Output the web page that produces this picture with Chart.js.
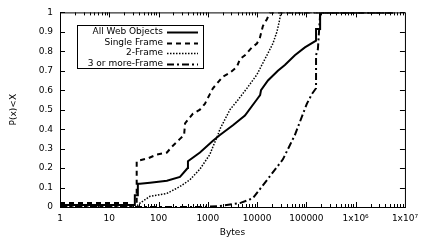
<!DOCTYPE html>
<html><head><meta charset="utf-8">
<script src="https://cdn.jsdelivr.net/npm/chart.js@4.4.0/dist/chart.umd.min.js"></script>
<style>html,body{margin:0;padding:0;background:#fff;}canvas{display:block;}</style>
</head><body>
<canvas id="c" width="424" height="242"></canvas>
<script>
const seriesLabels = ['All Web Objects', 'Single Frame', '2-Frame', '3 or more-Frame'];

const allBytes = [1, 33, 33, 38, 38, 42, 67, 148, 272, 360, 390, 395, 692, 1270, 1760, 3230, 5660, 10400, 11500, 12000, 16600, 26400, 36600, 58400, 93300, 157000, 157000, 190000, 190000, 5800000];
const allP     = [0.01, 0.01, 0.06, 0.06, 0.12, 0.12, 0.125, 0.135, 0.155, 0.19, 0.2, 0.235, 0.28, 0.34, 0.37, 0.42, 0.47, 0.56, 0.575, 0.6, 0.65, 0.7, 0.73, 0.78, 0.82, 0.855, 0.915, 0.915, 1.0, 1.0];

const singleBytes = [1, 24, 24, 36, 36, 42, 61, 93, 148, 187, 272, 330, 345, 500, 690, 870, 1100, 1270, 2020, 2810, 3890, 4480, 5660, 7850, 9900, 11400, 13100, 15800, 18200, 5800000];
const singleP     = [0.02, 0.02, 0.01, 0.01, 0.235, 0.24, 0.25, 0.27, 0.28, 0.31, 0.35, 0.37, 0.43, 0.48, 0.5, 0.53, 0.58, 0.61, 0.67, 0.69, 0.72, 0.76, 0.78, 0.82, 0.84, 0.87, 0.93, 0.965, 1.0, 1.0];

const twoBytes = [1, 36, 38, 42, 67, 148, 272, 433, 692, 1100, 1270, 1600, 1760, 2810, 4080, 6210, 9900, 13100, 16600, 20900, 25200, 28000, 30400, 5800000];
const twoP     = [0, 0, 0.01, 0.02, 0.055, 0.07, 0.105, 0.14, 0.195, 0.27, 0.31, 0.37, 0.4, 0.5, 0.55, 0.61, 0.68, 0.74, 0.79, 0.84, 0.9, 0.95, 1.0, 1.0];

const threeBytes = [1, 700, 1760, 4480, 8200, 16600, 33400, 58400, 102000, 129000, 157000, 157000, 171000, 188000, 190000, 5800000];
const threeP     = [0, 0, 0.005, 0.02, 0.045, 0.145, 0.245, 0.37, 0.53, 0.58, 0.61, 0.78, 0.81, 0.97, 1.0, 1.0];

const xTickValues = [1, 10, 100, 1000, 10000, 100000, 1000000, 10000000];
const xTickLabels = ['1', '10', '100', '1000', '10000', '100000', '1x10\u2076', '1x10\u2077'];
const yTickValues = [0, 0.1, 0.2, 0.3, 0.4, 0.5, 0.6, 0.7, 0.8, 0.9, 1];
const yTickLabels = ['0', '0.1', '0.2', '0.3', '0.4', '0.5', '0.6', '0.7', '0.8', '0.9', '1'];

const FONT = 'DejaVu Sans';
const pts = (xs, ys) => xs.map((x, i) => ({x: x, y: ys[i]}));
const lineStyles = [
  {borderWidth: 2, borderDash: []},
  {borderWidth: 2, borderDash: [5, 4]},
  {borderWidth: 1.5, borderDash: [1.5, 1.5]},
  {borderWidth: 2, borderDash: [7, 3, 2, 3]}
];
const seriesData = [pts(allBytes, allP), pts(singleBytes, singleP), pts(twoBytes, twoP), pts(threeBytes, threeP)];

const framePlugin = {
  id: 'frame',
  afterDatasetsDraw(chart) {
    const {ctx, chartArea: a, scales: {x, y}} = chart;
    ctx.save();
    ctx.strokeStyle = '#000';
    ctx.lineWidth = 1;
    ctx.setLineDash([]);
    ctx.strokeRect(a.left + 0.5, a.top + 0.5, a.right - a.left, a.bottom - a.top);
    ctx.beginPath();
    for (let d = 0; d < 7; d++) {
      for (let m = 1; m < 10; m++) {
        const v = Math.pow(10, d) * m;
        const px = Math.round(x.getPixelForValue(v)) + 0.5;
        const len = m === 1 ? 5 : 3;
        ctx.moveTo(px, a.bottom); ctx.lineTo(px, a.bottom - len);
        ctx.moveTo(px, a.top); ctx.lineTo(px, a.top + len);
      }
    }
    yTickValues.forEach(v => {
      const py = Math.round(y.getPixelForValue(v)) + 0.5;
      ctx.moveTo(a.left, py); ctx.lineTo(a.left + 5, py);
      ctx.moveTo(a.right, py); ctx.lineTo(a.right - 5, py);
    });
    ctx.stroke();

    // legend
    const lg = {left: 77, top: 25, right: 203, bottom: 68, textRight: 163, x0: 167, x1: 198, rows: [32, 42.5, 53, 63.5]};
    ctx.fillStyle = '#fff';
    ctx.fillRect(lg.left, lg.top, lg.right - lg.left, lg.bottom - lg.top);
    ctx.strokeRect(lg.left + 0.5, lg.top + 0.5, lg.right - lg.left, lg.bottom - lg.top);
    ctx.font = '9px "' + FONT + '"';
    ctx.textAlign = 'right';
    ctx.textBaseline = 'middle';
    chart.data.datasets.forEach((ds, i) => {
      const ry = lg.rows[i];
      ctx.fillStyle = '#000';
      ctx.fillText(ds.label, lg.textRight, ry);
      ctx.beginPath();
      ctx.lineWidth = ds.borderWidth;
      ctx.setLineDash(ds.borderDash);
      ctx.moveTo(lg.x0, Math.round(ry) + 0.5);
      ctx.lineTo(lg.x1, Math.round(ry) + 0.5);
      ctx.stroke();
    });
    ctx.restore();
  }
};

new Chart(document.getElementById('c'), {
  type: 'line',
  data: {
    datasets: seriesLabels.map((lab, i) => ({
      label: lab,
      data: seriesData[i],
      borderColor: '#000',
      borderWidth: lineStyles[i].borderWidth,
      borderDash: lineStyles[i].borderDash,
      pointRadius: 0,
      tension: 0,
      fill: false
    }))
  },
  options: {
    responsive: false,
    animation: false,
    layout: {padding: {left: 0, right: 19, top: 6, bottom: 0}},
    plugins: {legend: {display: false}, tooltip: {enabled: false}},
    scales: {
      x: {
        type: 'logarithmic',
        min: 1, max: 10000000,
        grid: {display: false, drawTicks: false},
        border: {display: false},
        afterBuildTicks: s => { s.ticks = xTickValues.map(v => ({value: v})); },
        afterFit: s => { s.height = 35; },
        ticks: {
          autoSkip: false, maxRotation: 0, padding: 6,
          color: '#000', font: {family: FONT, size: 9},
          callback: (v, i) => xTickLabels[i]
        },
        title: {display: true, text: 'Bytes', color: '#000', font: {family: FONT, size: 9}, padding: {top: 0, bottom: 4}}
      },
      y: {
        type: 'linear',
        min: 0, max: 1,
        grid: {display: false, drawTicks: false},
        border: {display: false},
        afterBuildTicks: s => { s.ticks = yTickValues.map(v => ({value: v})); },
        afterFit: s => { s.width = 60; },
        ticks: {
          autoSkip: false, padding: 7,
          color: '#000', font: {family: FONT, size: 9},
          callback: (v, i) => yTickLabels[i]
        },
        title: {display: true, text: 'P(x)<X', color: '#000', font: {family: FONT, size: 9}, padding: {top: 8, bottom: 0}}
      }
    }
  },
  plugins: [framePlugin]
});
</script>
</body></html>
